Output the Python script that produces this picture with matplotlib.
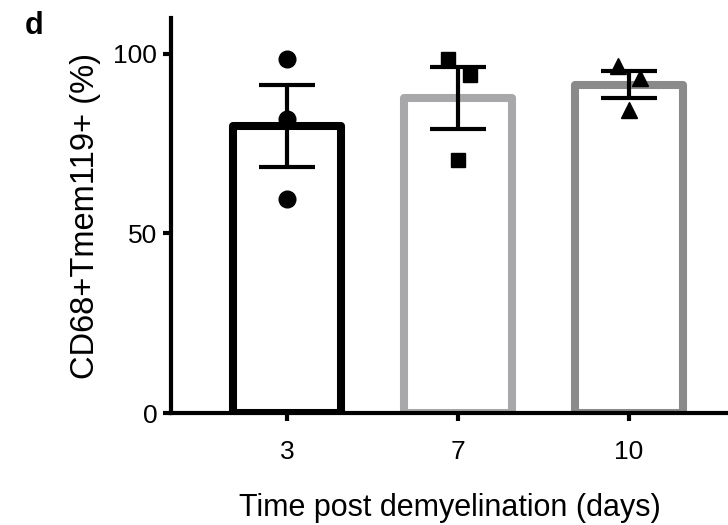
import numpy as np
import matplotlib
matplotlib.use("Agg")
import matplotlib.pyplot as plt

plt.rcParams["font.family"] = ["Liberation Sans", "DejaVu Sans"]

# dias pos desmielinizacao e valores individuais (%)
days = ["3", "7", "10"]
day3 = [98.5, 81.8, 59.5]
day7 = [98.5, 94.2, 70.5]
day10 = [96.7, 93.2, 84.4]
groups = [day3, day7, day10]

# deslocamento horizontal dos pontos dentro de cada barra
jitter = [[0.0, 0.0, 0.0], [-0.06, 0.07, 0.0], [-0.065, 0.065, 0.0]]
edge_colors = ["#000000", "#a8a8aa", "#8a8a8a"]
markers = ["o", "s", "^"]
msizes = [12, 10.5, 11]

means = np.array([np.mean(g) for g in groups])
sems = np.array([np.std(g, ddof=1) / np.sqrt(len(g)) for g in groups])
x = np.arange(len(days))

fig = plt.figure(figsize=(7.28, 5.25), dpi=100)
ax = fig.add_axes([0.235, 0.213, 0.765, 0.753])

ax.bar(x, means, width=0.63, color="white", edgecolor=edge_colors,
       linewidth=5.8, joinstyle="round", zorder=2)
ax.errorbar(x, means, yerr=sems, fmt="none", ecolor="black", elinewidth=3,
            capsize=20, capthick=3, zorder=3)

for i, g in enumerate(groups):
    xs = x[i] + np.array(jitter[i])
    ax.plot(xs, g, linestyle="none", marker=markers[i], markersize=msizes[i],
            color="black", zorder=4)

ax.set_xlim(-0.68, 2.58)
ax.set_ylim(0, 110)
ax.set_yticks([0, 50, 100])
ax.set_xticks(x)
ax.set_xticklabels(days)

for s in ["top", "right"]:
    ax.spines[s].set_visible(False)
for s in ["left", "bottom"]:
    ax.spines[s].set_linewidth(3)
    ax.spines[s].set_zorder(5)

ax.tick_params(axis="both", width=3, length=6, labelsize=19, pad=4)
ax.tick_params(axis="x", pad=13)

ax.set_ylabel("CD68+Tmem119+ (%)", fontsize=23.5, labelpad=9)
ax.set_xlabel("Time post demyelination (days)", fontsize=22, labelpad=21)

fig.text(0.034, 0.935, "d", fontsize=22, fontweight="bold")

fig.savefig("out.png", dpi=100)
